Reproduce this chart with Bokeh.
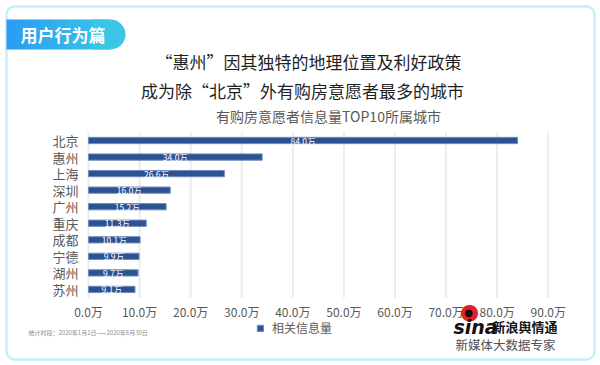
from bokeh.plotting import figure
from bokeh.models import Range1d, Label, BoxAnnotation, Legend, LegendItem, ColumnDataSource
from bokeh.core.properties import value
from bokeh.embed import file_html
from bokeh.resources import INLINE

# ---------------- data ----------------
cities = ["北京", "惠州", "上海", "深圳", "广州", "重庆", "成都", "宁德", "湖州", "苏州"]
counts = [84.0, 34.0, 26.6, 16.0, 15.2, 11.3, 10.1, 9.9, 9.7, 9.1]
tick_values = [0, 10, 20, 30, 40, 50, 60, 70, 80, 90]
tick_labels = ["0.0万", "10.0万", "20.0万", "30.0万", "40.0万", "50.0万",
               "60.0万", "70.0万", "80.0万", "90.0万"]
series_name = "相关信息量"
title_line1 = "“惠州”因其独特的地理位置及利好政策"
title_line2 = "成为除“北京”外有购房意愿者最多的城市"
subtitle = "有购房意愿者信息量TOP10所属城市"
header = "用户行为篇"
footnote = "统计时段：2020年1月1日——2020年6月30日"

CJK = "Noto Sans CJK SC"

# ---------------- layout ----------------
W, H = 600, 365
X0_PX, X_SCALE = 88, 5.108        # page x of value 0, px per unit
ROW0_PX, ROW_STEP = 140, 16.55    # page y of first row centre, px per row


def sx(px):
    return px


def sy(py):
    return H - py


rows = list(range(len(cities)))
src = ColumnDataSource(dict(
    row=rows,
    city=cities,
    count=counts,
    mid=[c / 2 for c in counts],
    label=["%.1f万" % c for c in counts],
))
ticks_src = ColumnDataSource(dict(x=tick_values, text=tick_labels))

p = figure(width=W, height=H,
           x_range=Range1d(-X0_PX / X_SCALE, (W - X0_PX) / X_SCALE),
           y_range=Range1d((H - ROW0_PX) / ROW_STEP, -ROW0_PX / ROW_STEP),
           x_axis_location=None, y_axis_location=None,
           output_backend="svg", toolbar_location=None, min_border=0)
p.outline_line_color = None
p.background_fill_color = "white"
p.border_fill_color = "white"
p.grid.visible = False

top_edge = -0.5
bottom_edge = len(cities) - 0.5

# grid lines (vertical)
p.segment(x0="x", x1="x", y0=top_edge, y1=bottom_edge, source=ticks_src,
          line_color="#ececec", line_width=2)

# bars
bars = p.hbar(y="row", left=0, right="count", height=0.38, source=src,
              fill_color="#2c5293", line_color="#6f8dbd", line_width=1)
p.text(x="mid", y="row", text="label", source=src, text_color="white",
       text_font_size="8.5px", text_align="center", text_baseline="middle",
       text_font=value(CJK))

# category labels (y axis)
p.text(x=0, y="row", text="city", source=src, x_offset=-10,
       text_align="right", text_baseline="middle", text_color="#595959",
       text_font_size="13px", text_font=value(CJK))

# tick labels (x axis)
p.text(x="x", y=bottom_edge, text="text", source=ticks_src, y_offset=14,
       text_align="center", text_baseline="middle", text_color="#595959",
       text_font_size="12px", text_font=value(CJK))

# legend
legend = Legend(items=[LegendItem(label=series_name, renderers=[bars])],
                location=(sx(256), sy(336)), orientation="horizontal",
                padding=0, margin=0, glyph_width=8, glyph_height=8,
                label_standoff=8, label_text_font_size="12px", label_height=12,
                label_text_color="#595959", label_text_font=CJK,
                border_line_color=None, background_fill_alpha=0)
p.add_layout(legend)

# card border
p.add_layout(BoxAnnotation(left=sx(6), right=sx(594), top=sy(6), bottom=sy(359),
                           left_units="screen", right_units="screen",
                           top_units="screen", bottom_units="screen",
                           fill_alpha=0, line_color="#3ec6e8", line_width=2.5,
                           border_radius=8))

# header pill (gradient made of strips + rounded end)
pill_l, pill_r, pill_t, pill_b = 6, 125, 19, 49
c_start, c_end = (0x29, 0x9e, 0xf5), (0x3c, 0xc6, 0xe6)
n_strips = 12
strip_w = (pill_r - 16 - pill_l) / n_strips
for i in range(n_strips + 1):
    f = i / n_strips
    col = "#%02x%02x%02x" % tuple(int(a + (b - a) * f) for a, b in zip(c_start, c_end))
    if i < n_strips:
        left = pill_l + i * strip_w
        right = left + strip_w + 1
        radius = 0
    else:
        left = pill_r - 32
        right = pill_r
        radius = dict(top_left=0, top_right=15, bottom_right=15, bottom_left=0)
    p.add_layout(BoxAnnotation(left=sx(left), right=sx(right), top=sy(pill_t), bottom=sy(pill_b),
                               left_units="screen", right_units="screen",
                               top_units="screen", bottom_units="screen",
                               fill_color=col, fill_alpha=1, line_color=None,
                               border_radius=radius))
p.add_layout(Label(x=sx(20), y=sy(34), x_units="screen", y_units="screen",
                   text=header, text_color="white", text_font_size="17px",
                   text_font_style="bold", text_font=CJK,
                   text_align="left", text_baseline="middle"))

# titles
p.add_layout(Label(x=sx(308), y=sy(61), x_units="screen", y_units="screen",
                   text=title_line1, text_color="#1f1f1f", text_font_size="17px",
                   text_font=CJK, text_align="center", text_baseline="middle"))
p.add_layout(Label(x=sx(302), y=sy(90), x_units="screen", y_units="screen",
                   text=title_line2, text_color="#1f1f1f", text_font_size="17px",
                   text_font=CJK, text_align="center", text_baseline="middle"))
p.add_layout(Label(x=sx(328), y=sy(115), x_units="screen", y_units="screen",
                   text=subtitle, text_color="#595959", text_font_size="14px",
                   text_font=CJK, text_align="center", text_baseline="middle"))

# footnote
p.add_layout(Label(x=sx(28), y=sy(332), x_units="screen", y_units="screen",
                   text=footnote, text_color="#8c8c8c", text_font_size="6px",
                   text_font=CJK, text_align="left", text_baseline="middle"))

# sina logo
p.add_layout(Label(x=sx(469), y=sy(311), x_units="screen", y_units="screen",
                   text="●", text_color="#e6202a", text_font_size="22px",
                   text_font="DejaVu Sans", text_align="center", text_baseline="middle"))
p.add_layout(Label(x=sx(468), y=sy(312), x_units="screen", y_units="screen",
                   text="●", text_color="#111111", text_font_size="10px",
                   text_font="DejaVu Sans", text_align="center", text_baseline="middle"))
p.add_layout(Label(x=sx(453), y=sy(326), x_units="screen", y_units="screen",
                   text="sina", text_color="#111111", text_font_size="19px",
                   text_font_style="bold italic", text_font="DejaVu Sans",
                   text_align="left", text_baseline="middle"))
p.add_layout(Label(x=sx(492), y=sy(326), x_units="screen", y_units="screen",
                   text="新浪舆情通", text_color="#111111", text_font_size="13px",
                   text_font_style="bold", text_font=CJK,
                   text_align="left", text_baseline="middle"))
p.add_layout(Label(x=sx(505), y=sy(344), x_units="screen", y_units="screen",
                   text="新媒体大数据专家", text_color="#505050", text_font_size="12.5px",
                   text_font=CJK, text_align="center", text_baseline="middle"))

open("out.html", "w").write(file_html(p, INLINE))
